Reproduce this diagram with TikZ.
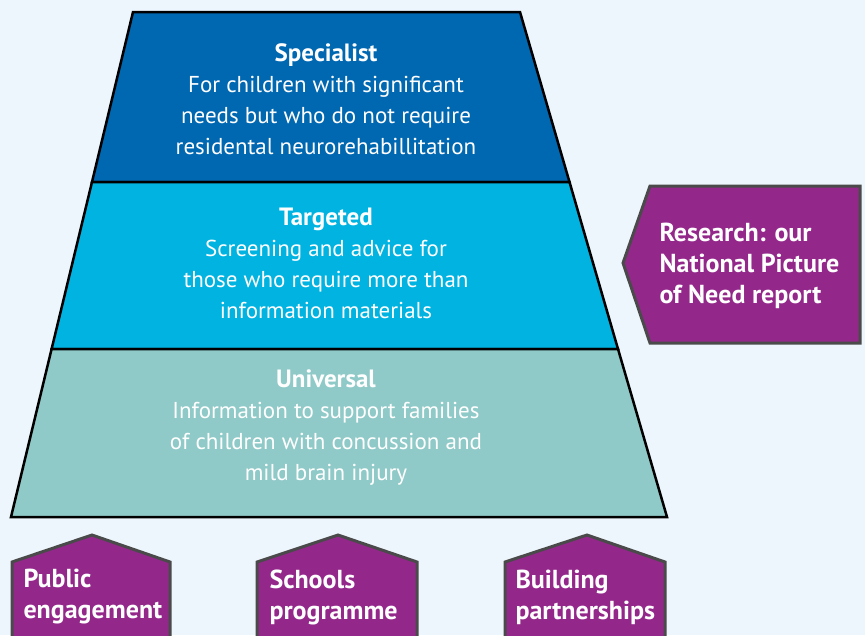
\documentclass[tikz,border=0pt]{standalone}
\usepackage{fontspec}
\setmainfont{PT Sans}
\usepackage{xcolor}
\usetikzlibrary{positioning}

\definecolor{paper}{HTML}{EDF6FC}
\definecolor{specialist}{HTML}{0067B1}
\definecolor{targeted}{HTML}{00B3E0}
\definecolor{universal}{HTML}{8FCAC8}
\definecolor{plum}{HTML}{93288A}
\definecolor{plumedge}{HTML}{4A4A4A}
\newcommand{\tierhead}[1]{{\bfseries\fontsize{25}{31}\selectfont #1}}

\begin{document}
\begin{tikzpicture}[x=1pt, y=-1pt,
    band/.style={draw=black, line width=2.5pt, line join=miter},
    tier/.style={align=center, text=white, font=\fontsize{23}{31}\selectfont},
    badge/.style={fill=plum, draw=plumedge, line width=3pt, line join=miter},
    badgetext/.style={align=left, anchor=west, text=white,
        font=\bfseries\fontsize{26}{31}\selectfont}]
                        \useasboundingbox (0,0) rectangle (865,635);
                        \clip (0,0) rectangle (865,635);
                        \fill[paper] (0,0) rectangle (865,635);
                        % pyramid
                        \filldraw[band, fill=specialist]
                        (133,12) -- (520,12) -- (569.5,182) -- (92,182) -- cycle;
                        \filldraw[band, fill=targeted]
                        (92,182) -- (569.5,182) -- (618,349) -- (51.6,349) -- cycle;
                        \filldraw[band, fill=universal]
                        (51.6,349) -- (618,349) -- (667,517) -- (11,517) -- cycle;
                        \node[tier] (spec) at (326,99)
                        {\tierhead{Specialist}\\For children with significant\\
                        needs but who do not require\\residental neurorehabillitation};
                        \node[tier] (targ) at (326,263.5)
                        {\tierhead{Targeted}\\Screening and advice for\\
                        those who require more than\\information materials};
                        \node[tier] (univ) at (326,428)
                        {\tierhead{Universal}\\Information to support families\\
                        of children with concussion and\\mild brain injury};
                        % research arrow
                        \filldraw[badge]
                        (623,263) -- (650,186) -- (860,186) -- (860,343) -- (650,343) -- cycle;
                        \node[badgetext] (research) at (656,266)
                        {Research: our\\National Picture\\of Need report};
                        % house shapes
                        \filldraw[badge]
                        (12,645) -- (12,562) -- (92,535) -- (170,562) -- (170,645) -- cycle;
                        \node[badgetext] (public) at (20,597) {Public\\engagement};
                        \filldraw[badge]
                        (257,645) -- (257,562) -- (338,535) -- (417,562) -- (417,645) -- cycle;
                        \node[badgetext] (schools) at (266,597) {Schools\\programme};
                        \filldraw[badge]
                        (505,645) -- (505,562) -- (587,535) -- (665,562) -- (665,645) -- cycle;
                        \node[badgetext] (building) at (512,597) {Building\\partnerships};
                    \end{tikzpicture}
\end{document}
